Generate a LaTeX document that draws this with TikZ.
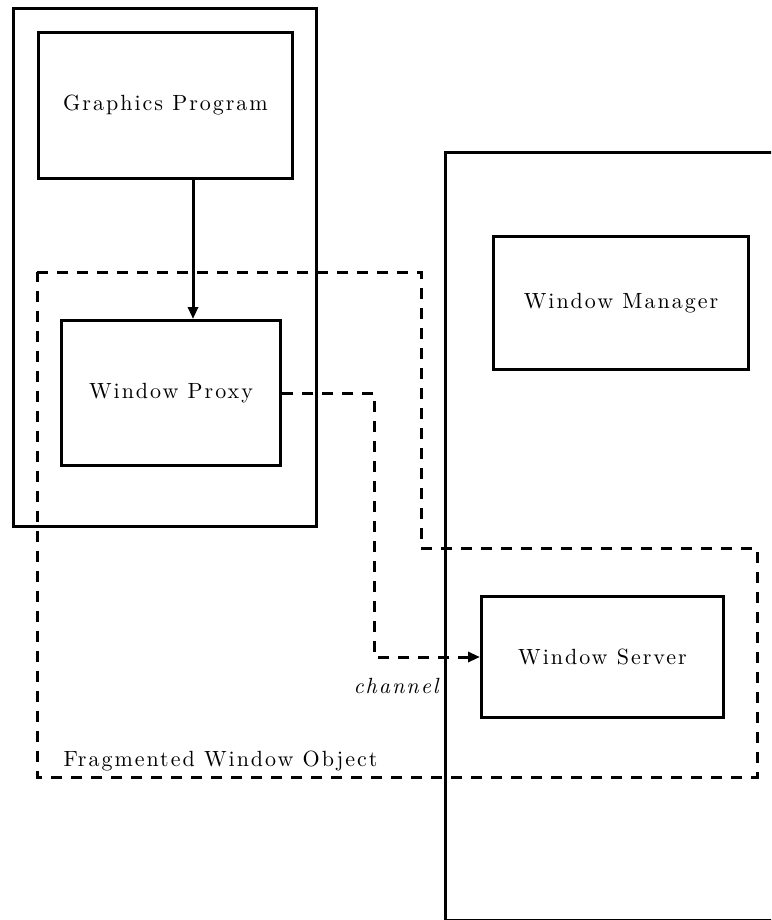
\documentclass[tikz,border=0pt]{standalone}
\usepackage{fontspec}
\setmainfont{Latin Modern Roman}[LetterSpace=9]
\usetikzlibrary{arrows.meta}
\newcommand{\px}{0.5pt}

\begin{document}
\begin{tikzpicture}[x=\px, y=-\px, line width=1.5pt, font=\fontsize{11}{13}\selectfont,
    box/.style={draw, rectangle, anchor=north west, inner sep=0pt},
    frag/.style={dash pattern=on 5.5pt off 4.5pt}]
    \useasboundingbox (0,0) rectangle (771,920);
    \clip (0,0) rectangle (771,920);

    % Client side
    \node[box, minimum width=303*\px, minimum height=518*\px] (client) at (12,7) {};
    \node[box, minimum width=254*\px, minimum height=146*\px] (graphics) at (37,31) {Graphics Program};
    \node[box, minimum width=219*\px, minimum height=145*\px] (proxy) at (60,319) {Window Proxy};

    % Server side
    \node[box, minimum width=335*\px, minimum height=768*\px] (host) at (444,151) {};
    \node[box, minimum width=255*\px, minimum height=133*\px] (manager) at (492,235) {Window Manager};
    \node[box, minimum width=242*\px, minimum height=121*\px] (server) at (480,595) {Window Server};

    % Fragmented object
    \draw[frag] (37,272) -- (421,272) -- (421,548) -- (757,548) -- (757,777) -- (37,777) -- cycle;
    \node[anchor=base west, inner sep=0pt] (fwo) at (62,766) {Fragmented Window Object};

    % Connectors
    \coordinate (tap) at (193,0);
    \coordinate (chan) at (374,0);
    \draw[-{Triangle[length=6pt,width=5pt]}] (graphics.south -| tap) -- (proxy.north -| tap);
    \draw[frag, -{Triangle[length=6pt,width=5pt]}] (proxy.east) -| (server.west -| chan) -- (server.west);
    \node[anchor=base east, inner sep=0pt, font=\fontsize{11}{13}\selectfont\itshape] (chanlabel) at (440,693) {channel};
\end{tikzpicture}
\end{document}
